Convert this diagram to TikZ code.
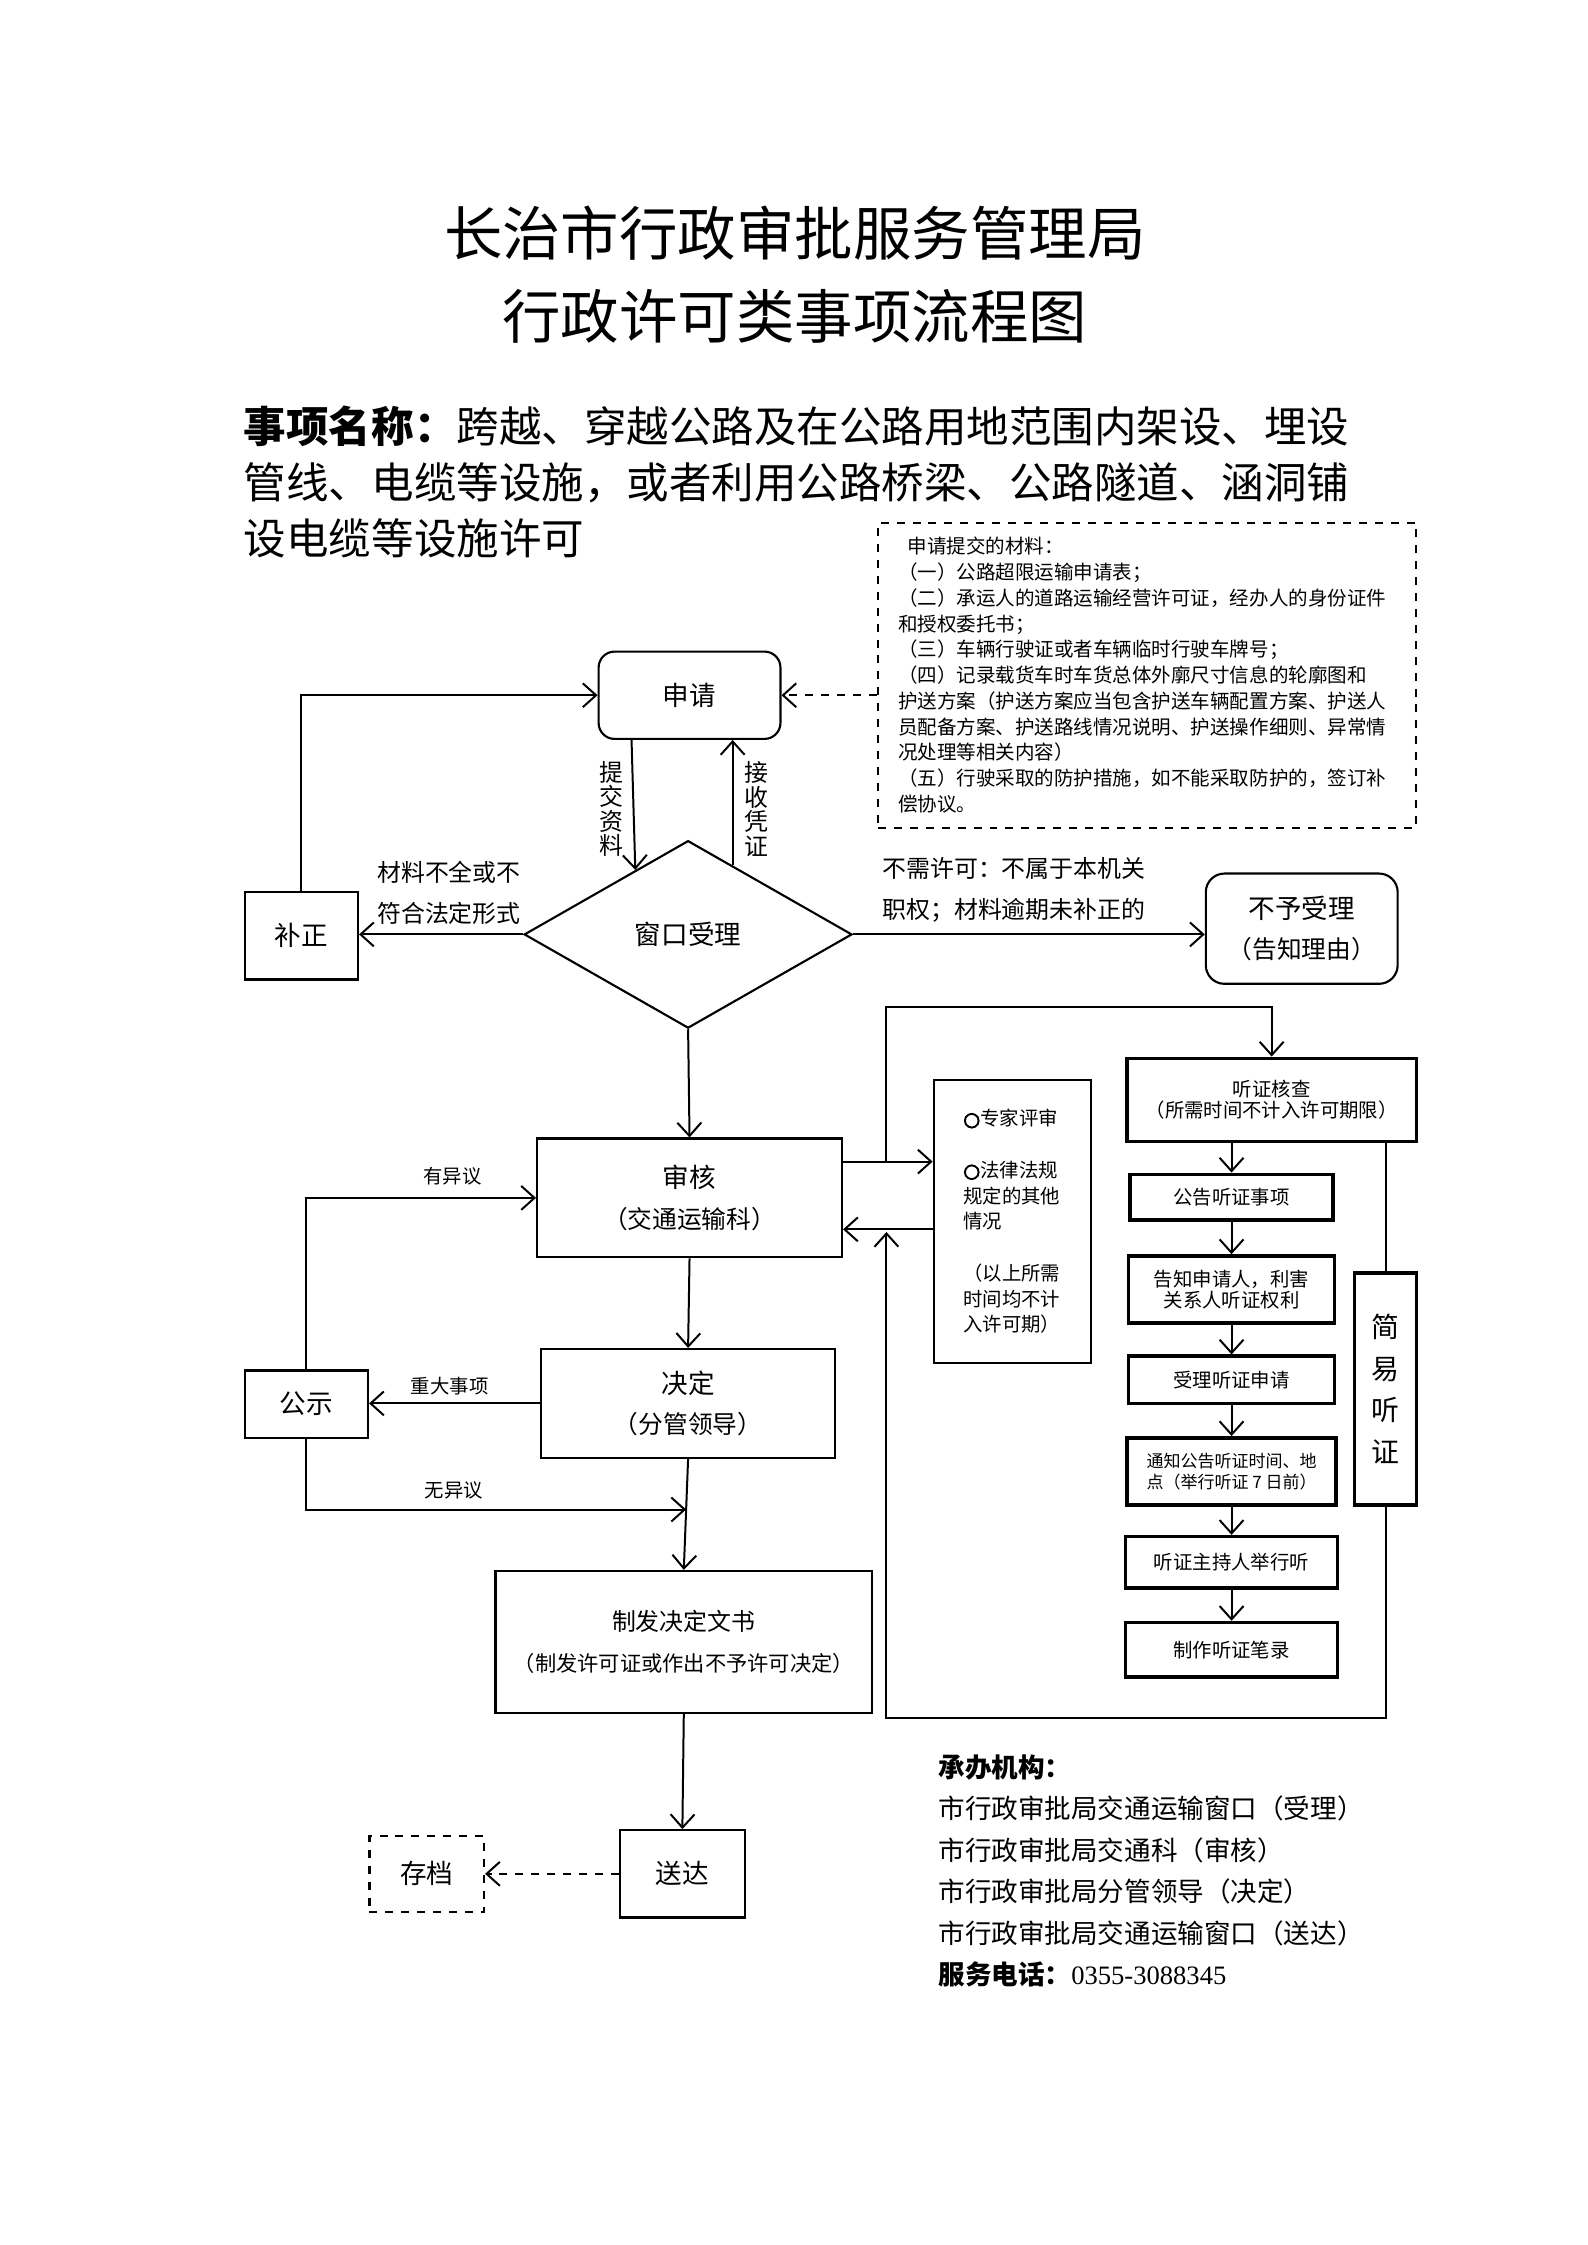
\documentclass[tikz,border=0pt]{standalone}
\usepackage{fontspec}
\setmainfont{Noto Sans CJK SC}
\newfontfamily\numfont{Liberation Serif}
\newfontfamily\ringfont[FakeBold=4]{DejaVu Sans}
\usetikzlibrary{positioning,calc,shapes.geometric,arrows.meta}

\newcommand{\fsz}[2]{\fontsize{#1}{#2}\selectfont}
\newcommand{\ring}{{\ringfont ○}}

\tikzset{
	box/.style={draw, line width=0.8pt, inner sep=0pt, align=center},
	hbox/.style={box, line width=1.3pt, font=\fsz{7.3}{8.1}},
	sz/.style 2 args={minimum width=#1*0.5389pt, minimum height=#2*0.5389pt},
	arr/.style={line width=0.75pt, -{Straight Barb[length=5pt,width=9pt,line width=0.75pt]}},
	darr/.style={arr, dashed},
	lbl/.style={inner sep=0pt, align=center, font=\fsz{9}{15.6}},
	slbl/.style={inner sep=0pt, font=\fsz{7.3}{9}},
}

\begin{document}
\begin{tikzpicture}[x=0.18945mm, y=-0.18945mm]
	\useasboundingbox (0,0) rectangle (1108.4,1567.7);

	% title
	\node[font=\fsz{22}{26}] (t1) at (555,163) {长治市行政审批服务管理局};
	\node[font=\fsz{22}{26}] (t2) at (555,221) {行政许可类事项流程图};
	\begin{scope}[every node/.style={anchor=west, inner sep=0pt, font=\fsz{16}{20}}]
		\node (s1) at (170,298) {\bfseries 事项名称：\mdseries 跨越、穿越公路及在公路用地范围内架设、埋设};
		\node (s2) at (170,337) {管线、电缆等设施，或者利用公路桥梁、公路隧道、涵洞铺};
		\node (s3) at (170,376) {设电缆等设施许可};
	\end{scope}

	% materials
	\node[box, dashed, sz={376}{213}, text width=187.5pt, align=left, font=\fsz{7.35}{9.7}] (mat) at (801,471.5) {%
		\hspace*{0.5em}申请提交的材料：\\
		（一）公路超限运输申请表；\\
		（二）承运人的道路运输经营许可证，经办人的身份证件\\
		和授权委托书；\\
		（三）车辆行驶证或者车辆临时行驶车牌号；\\
		（四）记录载货车时车货总体外廓尺寸信息的轮廓图和\\
		护送方案（护送方案应当包含护送车辆配置方案、护送人\\
		员配备方案、护送路线情况说明、护送操作细则、异常情\\
		况处理等相关内容）\\
		（五）行驶采取的防护措施，如不能采取防护的，签订补\\
		偿协议。};

	% main flow
	\node[box, rounded corners=6pt, sz={127}{61}, font=\fsz{10}{12}] (apply) at (481.5,485.5) {申请};
	\node[draw, line width=0.8pt, shape=diamond, inner sep=0pt, sz={229}{131}, font=\fsz{10}{12}] (acc) at (480.5,652.5) {窗口受理};
	\node[box, sz={79}{61}, font=\fsz{10}{12}] (fix) at (210.5,653.5) {补正};
	\node[box, rounded corners=7pt, sz={134}{77}, font=\fsz{10}{15.1}] (rej) at (909,648.5) {不予受理\\\fsz{9.3}{15.1}（告知理由）};
	\node[box, sz={213}{83}, font=\fsz{10}{15.1}] (rev) at (481.5,836.5) {审核\\\fsz{9.3}{15.1}（交通运输科）};
	\node[box, sz={205}{76}, font=\fsz{10}{15.1}] (dec) at (480.5,980) {决定\\\fsz{9.3}{15.1}（分管领导）};
	\node[box, sz={86}{47}, font=\fsz{10}{12}] (pub) at (214,980.5) {公示};
	\node[box, sz={263}{99}, font=\fsz{9}{15.6}] (iss) at (477.5,1146.5) {制发决定文书\\\fsz{8}{15.6}（制发许可证或作出不予许可决定）};
	\node[box, sz={87}{61}, font=\fsz{10}{12}] (dlv) at (476.5,1308.5) {送达};
	\node[box, dashed, sz={80}{53}, font=\fsz{10}{12}] (arc) at (298,1308.5) {存档};

	% expert review
	\node[box, sz={110}{198}, text width=37pt, align=left, font=\fsz{7.3}{9.7}] (exp) at (707,853) {%
		\ring 专家评审\\[9.7pt]
		\ring 法律法规\\
		规定的其他\\
		情况\\[9.7pt]
		（以上所需\\
		时间均不计\\
		入许可期）};

	% hearing
	\node[hbox, sz={202}{58}] (chk) at (888,768) {听证核查\\（所需时间不计入许可期限）};
	\node[hbox, sz={142}{32}] (h1) at (860,836) {公告听证事项};
	\node[hbox, sz={144}{47}] (h2) at (860,900.5) {告知申请人，利害\\关系人听证权利};
	\node[hbox, sz={144}{33}] (h3) at (860,963.5) {受理听证申请};
	\node[hbox, sz={146}{47}, align=left, font=\fsz{6.4}{8.1}] (h4) at (860,1027.5) {通知公告听证时间、地\\点（举行听证 7 日前）};
	\node[hbox, sz={148}{36}] (h5) at (860,1091) {听证主持人举行听};
	\node[hbox, sz={148}{38}] (h6) at (860,1152) {制作听证笔录};
	\node[hbox, sz={43}{162}, font=\fsz{10.5}{15.7}] (simp) at (967.5,970) {简\\易\\听\\证};

	% labels
	\node[lbl, font=\fsz{9}{9.2}] (lsub) at (427,565) {提\\交\\资\\料};
	\node[lbl, font=\fsz{9}{9.2}] (lrec) at (528,565) {接\\收\\凭\\证};
	\node[lbl] (lfix) at (313.5,623.5) {材料不全或不\\符合法定形式};
	\node[lbl] (lrej) at (708,621.5) {不需许可：不属于本机关\\职权；材料逾期未补正的};
	\node[slbl] (lobj) at (316,821) {有异议};
	\node[slbl] (lbig) at (314,968) {重大事项};
	\node[slbl] (lnon) at (317,1041) {无异议};

	% connectors
	\coordinate (pa) at ($(acc.west)!0.68!(acc.north)$);
	\coordinate (pb) at ($(acc.north)!0.27!(acc.east)$);
	\coordinate (mid) at ($(dec.south)!0.456!(iss.north)$);
	\coordinate (r1) at ($(rev.north east)!0.2!(rev.south east)$);
	\coordinate (r2) at ($(rev.north east)!0.76!(rev.south east)$);
	\coordinate (j1) at (r1 -| 619,0);
	\coordinate (j2) at (619,703);
	\coordinate (j3) at (619,1200);
	\coordinate (j4) at (r2 -| 619,0);

	\draw[arr] (fix.north) |- (apply.west);
	\draw[darr] (mat.west |- apply.east) -- (apply.east);
	\draw[arr] (apply.south -| 441,0) -- (pa);
	\draw[arr] (pb) -- (pb |- apply.south);
	\draw[arr] (acc.west) -- (acc.west -| fix.east);
	\draw[arr] (acc.east) -- (acc.east -| rej.west);
	\draw[arr] (acc.south) -- (rev.north);
	\draw[arr] (rev.south) -- (dec.north);
	\draw[arr] (dec.west) -- (dec.west -| pub.east);
	\draw[arr] (pub.north) |- (rev.west);
	\draw[arr] (dec.south) -- (iss.north);
	\draw[arr] (pub.south) |- (mid);
	\draw[arr] (iss.south) -- (dlv.north);
	\draw[darr] (dlv.west) -- (dlv.west -| arc.east);

	\draw[arr] (r1) -- (r1 -| exp.west);
	\draw[arr] (r2 -| exp.west) -- (r2);
	\draw[arr] (j1) -- (j2) -| (chk.north);
	\draw[line width=0.75pt] (chk.south -| simp.north) -- (simp.north);
	\draw[arr] (simp.south) |- (j3) -- ([yshift=-1pt]j4);
	\draw[arr] (h1.north |- chk.south) -- (h1.north);
	\foreach \a/\b in {h1/h2,h2/h3,h3/h4,h4/h5,h5/h6}
		\draw[arr] (\a) -- (\b);

	% footer
	\begin{scope}[every node/.style={anchor=west, inner sep=0pt, font=\fsz{10}{12}}]
		\node (f0) at (655,1234) {\bfseries 承办机构：};
		\node (f1) at (655,1263) {市行政审批局交通运输窗口（受理）};
		\node (f2) at (655,1292) {市行政审批局交通科（审核）};
		\node (f3) at (655,1321) {市行政审批局分管领导（决定）};
		\node (f4) at (655,1350) {市行政审批局交通运输窗口（送达）};
		\node (f5) at (655,1379) {\bfseries 服务电话：\mdseries\numfont 0355-3088345};
	\end{scope}
\end{tikzpicture}
\end{document}
